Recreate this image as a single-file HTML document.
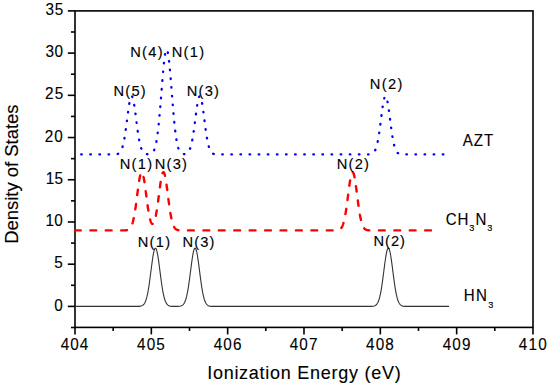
<!DOCTYPE html>
<html><head><meta charset="utf-8"><style>
html,body{margin:0;padding:0;background:#fff;}
svg{display:block;}
text{font-family:"Liberation Sans",sans-serif;fill:#000;stroke:#000;stroke-width:0.12px;}
</style></head><body>
<svg width="550" height="385" viewBox="0 0 550 385">
<rect width="550" height="385" fill="#fff"/>
<rect x="75.0" y="10.9" width="458.00" height="316.50" fill="none" stroke="#000" stroke-width="1.6"/>
<line x1="71.00" y1="327.51" x2="75.0" y2="327.51" stroke="#000" stroke-width="1.6"/>
<line x1="67.80" y1="306.40" x2="75.0" y2="306.40" stroke="#000" stroke-width="1.6"/>
<line x1="71.00" y1="285.29" x2="75.0" y2="285.29" stroke="#000" stroke-width="1.6"/>
<line x1="67.80" y1="264.19" x2="75.0" y2="264.19" stroke="#000" stroke-width="1.6"/>
<line x1="71.00" y1="243.08" x2="75.0" y2="243.08" stroke="#000" stroke-width="1.6"/>
<line x1="67.80" y1="221.97" x2="75.0" y2="221.97" stroke="#000" stroke-width="1.6"/>
<line x1="71.00" y1="200.86" x2="75.0" y2="200.86" stroke="#000" stroke-width="1.6"/>
<line x1="67.80" y1="179.75" x2="75.0" y2="179.75" stroke="#000" stroke-width="1.6"/>
<line x1="71.00" y1="158.65" x2="75.0" y2="158.65" stroke="#000" stroke-width="1.6"/>
<line x1="67.80" y1="137.54" x2="75.0" y2="137.54" stroke="#000" stroke-width="1.6"/>
<line x1="71.00" y1="116.43" x2="75.0" y2="116.43" stroke="#000" stroke-width="1.6"/>
<line x1="67.80" y1="95.32" x2="75.0" y2="95.32" stroke="#000" stroke-width="1.6"/>
<line x1="71.00" y1="74.22" x2="75.0" y2="74.22" stroke="#000" stroke-width="1.6"/>
<line x1="67.80" y1="53.11" x2="75.0" y2="53.11" stroke="#000" stroke-width="1.6"/>
<line x1="71.00" y1="32.00" x2="75.0" y2="32.00" stroke="#000" stroke-width="1.6"/>
<line x1="67.80" y1="10.89" x2="75.0" y2="10.89" stroke="#000" stroke-width="1.6"/>
<line x1="75.00" y1="327.4" x2="75.00" y2="334.40" stroke="#000" stroke-width="1.6"/>
<line x1="113.16" y1="327.4" x2="113.16" y2="331.00" stroke="#000" stroke-width="1.6"/>
<line x1="151.33" y1="327.4" x2="151.33" y2="334.40" stroke="#000" stroke-width="1.6"/>
<line x1="189.50" y1="327.4" x2="189.50" y2="331.00" stroke="#000" stroke-width="1.6"/>
<line x1="227.66" y1="327.4" x2="227.66" y2="334.40" stroke="#000" stroke-width="1.6"/>
<line x1="265.82" y1="327.4" x2="265.82" y2="331.00" stroke="#000" stroke-width="1.6"/>
<line x1="303.99" y1="327.4" x2="303.99" y2="334.40" stroke="#000" stroke-width="1.6"/>
<line x1="342.15" y1="327.4" x2="342.15" y2="331.00" stroke="#000" stroke-width="1.6"/>
<line x1="380.32" y1="327.4" x2="380.32" y2="334.40" stroke="#000" stroke-width="1.6"/>
<line x1="418.49" y1="327.4" x2="418.49" y2="331.00" stroke="#000" stroke-width="1.6"/>
<line x1="456.65" y1="327.4" x2="456.65" y2="334.40" stroke="#000" stroke-width="1.6"/>
<line x1="494.81" y1="327.4" x2="494.81" y2="331.00" stroke="#000" stroke-width="1.6"/>
<line x1="532.98" y1="327.4" x2="532.98" y2="334.40" stroke="#000" stroke-width="1.6"/>
<path d="M75.00,306.40 L135.15,306.40 L138.81,306.34 L140.49,306.17 L141.71,305.85 L142.63,305.39 L143.39,304.79 L144.00,304.10 L144.61,303.18 L145.22,301.98 L145.68,300.86 L146.14,299.53 L146.60,297.97 L147.06,296.15 L147.51,294.08 L147.97,291.74 L148.43,289.13 L148.89,286.26 L149.35,283.17 L149.96,278.73 L151.64,265.72 L152.25,261.18 L152.70,258.04 L153.16,255.21 L153.47,253.53 L153.77,252.06 L154.08,250.79 L154.38,249.76 L154.69,248.97 L154.99,248.44 L155.30,248.18 L155.60,248.18 L155.91,248.44 L156.22,248.97 L156.52,249.76 L156.83,250.79 L157.13,252.06 L157.44,253.53 L157.74,255.21 L158.20,258.04 L158.66,261.18 L159.27,265.72 L160.64,276.42 L161.25,280.99 L161.71,284.22 L162.17,287.25 L162.63,290.03 L163.08,292.55 L163.54,294.80 L164.00,296.79 L164.46,298.52 L164.92,300.00 L165.37,301.26 L165.99,302.62 L166.60,303.67 L167.21,304.47 L167.97,305.18 L168.89,305.72 L170.11,306.11 L172.09,306.34 L177.13,306.38 L179.42,306.26 L180.79,306.02 L181.86,305.61 L182.63,305.12 L183.39,304.38 L184.00,303.56 L184.61,302.47 L185.22,301.06 L185.68,299.77 L186.14,298.25 L186.59,296.47 L187.05,294.44 L187.51,292.15 L187.97,289.58 L188.43,286.76 L188.88,283.70 L189.50,279.30 L190.41,272.26 L191.33,265.14 L191.78,261.73 L192.24,258.54 L192.70,255.65 L193.01,253.93 L193.31,252.41 L193.62,251.09 L193.92,250.00 L194.23,249.15 L194.53,248.55 L194.84,248.22 L195.14,248.15 L195.45,248.35 L195.75,248.82 L196.06,249.54 L196.36,250.51 L196.67,251.72 L196.98,253.15 L197.28,254.77 L197.74,257.54 L198.20,260.64 L198.81,265.14 L200.18,275.83 L200.79,280.43 L201.25,283.70 L201.71,286.76 L202.17,289.58 L202.62,292.15 L203.08,294.44 L203.54,296.47 L204.00,298.25 L204.46,299.77 L204.91,301.06 L205.52,302.47 L206.13,303.56 L206.75,304.38 L207.51,305.12 L208.42,305.68 L209.65,306.09 L211.63,306.33 L366.28,306.40 L371.16,306.36 L373.14,306.20 L374.37,305.93 L375.28,305.53 L376.05,304.99 L376.81,304.20 L377.42,303.31 L378.03,302.15 L378.49,301.06 L378.95,299.77 L379.40,298.25 L379.86,296.47 L380.32,294.44 L380.78,292.15 L381.24,289.58 L381.69,286.76 L382.15,283.70 L382.76,279.30 L383.68,272.26 L384.59,265.14 L385.05,261.73 L385.51,258.54 L385.97,255.65 L386.27,253.93 L386.58,252.41 L386.88,251.09 L387.19,250.00 L387.50,249.15 L387.80,248.55 L388.11,248.22 L388.41,248.15 L388.72,248.35 L389.02,248.82 L389.33,249.54 L389.63,250.51 L389.94,251.72 L390.24,253.15 L390.55,254.77 L391.01,257.54 L391.46,260.64 L392.07,265.14 L393.45,275.83 L394.06,280.43 L394.52,283.70 L394.98,286.76 L395.43,289.58 L395.89,292.15 L396.35,294.44 L396.81,296.47 L397.27,298.25 L397.72,299.77 L398.18,301.06 L398.79,302.47 L399.40,303.56 L400.01,304.38 L400.78,305.12 L401.69,305.68 L402.91,306.09 L404.90,306.33 L449.02,306.40" fill="none" stroke="#333" stroke-width="1.1"/>
<path d="M75.00,230.41 L75.00,230.41 L75.23,230.41 L75.46,230.41 L75.69,230.41 L75.92,230.41 L76.14,230.41 L76.37,230.41 L76.60,230.41 L76.83,230.41 L77.06,230.41 L77.29,230.41 L77.52,230.41 L77.75,230.41 L77.98,230.41 L78.21,230.41 L78.43,230.41 L78.66,230.41 L78.89,230.41 L79.12,230.41 L79.35,230.41 L79.58,230.41 L79.81,230.41 L80.04,230.41 L80.27,230.41 L80.50,230.41 L80.72,230.41 L80.75,230.41M90.37,230.41 L90.38,230.41 L90.61,230.41 L90.84,230.41 L91.07,230.41 L91.30,230.41 L91.53,230.41 L91.75,230.41 L91.98,230.41 L92.21,230.41 L92.44,230.41 L92.67,230.41 L92.90,230.41 L93.13,230.41 L93.36,230.41 L93.59,230.41 L93.82,230.41 L94.04,230.41 L94.27,230.41 L94.50,230.41 L94.73,230.41 L94.96,230.41 L95.19,230.41 L95.42,230.41 L95.65,230.41 L95.88,230.41 L96.11,230.41 L96.17,230.41M105.79,230.41 L105.80,230.41 L106.03,230.41 L106.26,230.41 L106.49,230.41 L106.72,230.41 L106.94,230.41 L107.17,230.41 L107.40,230.41 L107.63,230.41 L107.86,230.41 L108.09,230.41 L108.32,230.41 L108.55,230.41 L108.78,230.41 L109.01,230.41 L109.23,230.41 L109.46,230.41 L109.69,230.41 L109.92,230.41 L110.15,230.41 L110.38,230.41 L110.61,230.41 L110.84,230.41 L111.07,230.41 L111.29,230.41 L111.52,230.41 L111.59,230.41M121.21,230.41 L121.22,230.41 L121.45,230.41 L121.68,230.41 L121.90,230.41 L122.13,230.41 L122.36,230.41 L122.59,230.41 L122.82,230.40 L123.05,230.40 L123.28,230.40 L123.51,230.40 L123.74,230.39 L123.97,230.39 L124.19,230.38 L124.42,230.38 L124.65,230.37 L124.88,230.36 L125.11,230.35 L125.34,230.33 L125.57,230.32 L125.80,230.30 L126.03,230.28 L126.26,230.25 L126.48,230.22 L126.71,230.19 L126.94,230.14 L126.99,230.13M132.46,223.36 L132.48,223.30 L132.71,222.53 L132.93,221.70 L133.16,220.80 L133.39,219.84 L133.62,218.81 L133.77,218.10M135.30,209.27 L135.30,209.27 L135.53,207.71 L135.76,206.10 L135.99,204.44 L136.06,203.92M137.21,195.04 L137.25,194.78 L137.48,192.98 L137.71,191.20 L137.90,189.69M139.16,180.82 L139.19,180.59 L139.42,179.22 L139.65,177.95 L139.88,176.78 L140.11,175.73 L140.16,175.50M143.57,176.88 L143.58,176.96 L143.81,178.15 L144.04,179.44 L144.27,180.82 L144.49,182.21M145.71,191.08 L145.72,191.18 L145.95,192.95 L146.18,194.74 L146.40,196.44M147.57,205.32 L147.59,205.43 L147.82,207.03 L148.05,208.58 L148.28,210.07 L148.37,210.66M150.12,219.46 L150.15,219.56 L150.38,220.36 L150.60,221.08 L150.83,221.73 L151.06,222.29 L151.29,222.77 L151.52,223.17 L151.75,223.49 L151.98,223.73 L152.21,223.89 L152.44,223.97 L152.67,223.97 L152.70,223.96M155.84,215.71 L155.87,215.54 L156.10,214.34 L156.33,213.07 L156.56,211.72 L156.78,210.39M158.05,201.52 L158.05,201.51 L158.28,199.77 L158.51,198.01 L158.73,196.23 L158.74,196.16M159.90,187.28 L159.92,187.12 L160.15,185.46 L160.38,183.84 L160.60,182.29 L160.66,181.93M162.54,173.17 L162.55,173.16 L162.78,172.69 L163.01,172.36 L163.24,172.19 L163.47,172.16 L163.70,172.29 L163.92,172.56 L164.15,172.99 L164.38,173.55 L164.61,174.26 L164.84,175.10 L165.00,175.78M166.51,184.61 L166.52,184.65 L166.75,186.30 L166.98,188.00 L167.21,189.73 L167.24,189.96M168.38,198.85 L168.39,198.96 L168.62,200.72 L168.85,202.46 L169.08,204.16 L169.08,204.20M170.40,213.06 L170.41,213.14 L170.64,214.48 L170.87,215.75 L171.10,216.95 L171.33,218.09 L171.39,218.38M174.08,226.94 L174.11,226.99 L174.34,227.39 L174.57,227.74 L174.80,228.06 L175.03,228.35 L175.26,228.61 L175.49,228.83 L175.72,229.04 L175.95,229.22 L176.18,229.38 L176.40,229.52 L176.63,229.64 L176.86,229.75 L177.09,229.84 L177.32,229.93 L177.55,230.00 L177.78,230.06 L178.01,230.11 L178.24,230.16 L178.40,230.19M188.01,230.41 L188.04,230.41 L188.27,230.41 L188.50,230.41 L188.73,230.41 L188.96,230.41 L189.19,230.41 L189.42,230.41 L189.65,230.41 L189.88,230.41 L190.11,230.41 L190.33,230.41 L190.56,230.41 L190.79,230.41 L191.02,230.41 L191.25,230.41 L191.48,230.41 L191.71,230.41 L191.94,230.41 L192.17,230.41 L192.40,230.41 L192.62,230.41 L192.85,230.41 L193.08,230.41 L193.31,230.41 L193.54,230.41 L193.77,230.41 L193.81,230.41M203.43,230.41 L203.46,230.41 L203.69,230.41 L203.92,230.41 L204.15,230.41 L204.38,230.41 L204.61,230.41 L204.84,230.41 L205.07,230.41 L205.30,230.41 L205.52,230.41 L205.75,230.41 L205.98,230.41 L206.21,230.41 L206.44,230.41 L206.67,230.41 L206.90,230.41 L207.13,230.41 L207.36,230.41 L207.59,230.41 L207.81,230.41 L208.04,230.41 L208.27,230.41 L208.50,230.41 L208.73,230.41 L208.96,230.41 L209.19,230.41 L209.23,230.41M218.85,230.41 L218.88,230.41 L219.11,230.41 L219.34,230.41 L219.57,230.41 L219.80,230.41 L220.03,230.41 L220.26,230.41 L220.48,230.41 L220.71,230.41 L220.94,230.41 L221.17,230.41 L221.40,230.41 L221.63,230.41 L221.86,230.41 L222.09,230.41 L222.32,230.41 L222.55,230.41 L222.77,230.41 L223.00,230.41 L223.23,230.41 L223.46,230.41 L223.69,230.41 L223.92,230.41 L224.15,230.41 L224.38,230.41 L224.61,230.41 L224.65,230.41M234.27,230.41 L234.30,230.41 L234.53,230.41 L234.76,230.41 L234.99,230.41 L235.22,230.41 L235.45,230.41 L235.67,230.41 L235.90,230.41 L236.13,230.41 L236.36,230.41 L236.59,230.41 L236.82,230.41 L237.05,230.41 L237.28,230.41 L237.51,230.41 L237.74,230.41 L237.96,230.41 L238.19,230.41 L238.42,230.41 L238.65,230.41 L238.88,230.41 L239.11,230.41 L239.34,230.41 L239.57,230.41 L239.80,230.41 L240.03,230.41 L240.07,230.41M249.69,230.41 L249.72,230.41 L249.95,230.41 L250.18,230.41 L250.41,230.41 L250.64,230.41 L250.86,230.41 L251.09,230.41 L251.32,230.41 L251.55,230.41 L251.78,230.41 L252.01,230.41 L252.24,230.41 L252.47,230.41 L252.70,230.41 L252.93,230.41 L253.15,230.41 L253.38,230.41 L253.61,230.41 L253.84,230.41 L254.07,230.41 L254.30,230.41 L254.53,230.41 L254.76,230.41 L254.99,230.41 L255.22,230.41 L255.44,230.41 L255.49,230.41M265.11,230.41 L265.14,230.41 L265.37,230.41 L265.60,230.41 L265.82,230.41 L266.05,230.41 L266.28,230.41 L266.51,230.41 L266.74,230.41 L266.97,230.41 L267.20,230.41 L267.43,230.41 L267.66,230.41 L267.89,230.41 L268.11,230.41 L268.34,230.41 L268.57,230.41 L268.80,230.41 L269.03,230.41 L269.26,230.41 L269.49,230.41 L269.72,230.41 L269.95,230.41 L270.18,230.41 L270.40,230.41 L270.63,230.41 L270.86,230.41 L270.91,230.41M280.53,230.41 L280.56,230.41 L280.79,230.41 L281.01,230.41 L281.24,230.41 L281.47,230.41 L281.70,230.41 L281.93,230.41 L282.16,230.41 L282.39,230.41 L282.62,230.41 L282.85,230.41 L283.08,230.41 L283.30,230.41 L283.53,230.41 L283.76,230.41 L283.99,230.41 L284.22,230.41 L284.45,230.41 L284.68,230.41 L284.91,230.41 L285.14,230.41 L285.37,230.41 L285.59,230.41 L285.82,230.41 L286.05,230.41 L286.28,230.41 L286.33,230.41M295.95,230.41 L295.98,230.41 L296.20,230.41 L296.43,230.41 L296.66,230.41 L296.89,230.41 L297.12,230.41 L297.35,230.41 L297.58,230.41 L297.81,230.41 L298.04,230.41 L298.27,230.41 L298.49,230.41 L298.72,230.41 L298.95,230.41 L299.18,230.41 L299.41,230.41 L299.64,230.41 L299.87,230.41 L300.10,230.41 L300.33,230.41 L300.56,230.41 L300.78,230.41 L301.01,230.41 L301.24,230.41 L301.47,230.41 L301.70,230.41 L301.75,230.41M311.37,230.41 L311.39,230.41 L311.62,230.41 L311.85,230.41 L312.08,230.41 L312.31,230.41 L312.54,230.41 L312.77,230.41 L313.00,230.41 L313.23,230.41 L313.45,230.41 L313.68,230.41 L313.91,230.41 L314.14,230.41 L314.37,230.41 L314.60,230.41 L314.83,230.41 L315.06,230.41 L315.29,230.41 L315.52,230.41 L315.74,230.41 L315.97,230.41 L316.20,230.41 L316.43,230.41 L316.66,230.41 L316.89,230.41 L317.12,230.41 L317.17,230.41M326.79,230.41 L326.81,230.41 L327.04,230.41 L327.27,230.41 L327.50,230.41 L327.73,230.41 L327.96,230.41 L328.19,230.41 L328.42,230.41 L328.64,230.41 L328.87,230.41 L329.10,230.41 L329.33,230.41 L329.56,230.41 L329.79,230.41 L330.02,230.41 L330.25,230.41 L330.48,230.41 L330.71,230.41 L330.93,230.41 L331.16,230.41 L331.39,230.41 L331.62,230.41 L331.85,230.41 L332.08,230.41 L332.31,230.41 L332.54,230.41 L332.59,230.41M341.32,227.90 L341.35,227.85 L341.58,227.51 L341.81,227.13 L342.04,226.71 L342.27,226.24 L342.50,225.73 L342.73,225.17 L342.96,224.56 L343.19,223.90 L343.41,223.18 L343.49,222.92M345.42,214.16 L345.44,214.04 L345.67,212.68 L345.90,211.26 L346.12,209.78 L346.27,208.83M347.48,199.95 L347.50,199.84 L347.73,198.07 L347.96,196.28 L348.17,194.60M349.33,185.72 L349.37,185.47 L349.60,183.85 L349.83,182.30 L350.06,180.83 L350.13,180.37M352.84,172.23 L352.88,172.26 L353.11,172.51 L353.34,172.91 L353.57,173.45 L353.80,174.13 L354.02,174.95 L354.25,175.90 L354.48,176.97 L354.55,177.33M355.95,186.18 L355.97,186.30 L356.20,188.00 L356.43,189.73 L356.66,191.50 L356.66,191.53M357.80,200.41 L357.80,200.43 L358.03,202.17 L358.26,203.88 L358.49,205.55 L358.52,205.77M359.89,214.62 L359.90,214.69 L360.13,215.95 L360.36,217.15 L360.59,218.28 L360.82,219.34 L360.95,219.92M364.20,228.28 L364.21,228.30 L364.44,228.57 L364.67,228.80 L364.90,229.01 L365.13,229.19 L365.36,229.35 L365.59,229.50 L365.82,229.62 L366.05,229.73 L366.28,229.83 L366.50,229.91 L366.73,229.99 L366.96,230.05 L367.19,230.10 L367.42,230.15 L367.65,230.19 L367.88,230.23 L368.11,230.26 L368.34,230.28 L368.57,230.30 L368.79,230.32 L369.02,230.34 L369.25,230.35 L369.31,230.35M378.93,230.41 L378.95,230.41 L379.18,230.41 L379.40,230.41 L379.63,230.41 L379.86,230.41 L380.09,230.41 L380.32,230.41 L380.55,230.41 L380.78,230.41 L381.01,230.41 L381.24,230.41 L381.46,230.41 L381.69,230.41 L381.92,230.41 L382.15,230.41 L382.38,230.41 L382.61,230.41 L382.84,230.41 L383.07,230.41 L383.30,230.41 L383.53,230.41 L383.75,230.41 L383.98,230.41 L384.21,230.41 L384.44,230.41 L384.67,230.41 L384.73,230.41M394.35,230.41 L394.36,230.41 L394.59,230.41 L394.82,230.41 L395.05,230.41 L395.28,230.41 L395.51,230.41 L395.74,230.41 L395.97,230.41 L396.20,230.41 L396.43,230.41 L396.65,230.41 L396.88,230.41 L397.11,230.41 L397.34,230.41 L397.57,230.41 L397.80,230.41 L398.03,230.41 L398.26,230.41 L398.49,230.41 L398.72,230.41 L398.94,230.41 L399.17,230.41 L399.40,230.41 L399.63,230.41 L399.86,230.41 L400.09,230.41 L400.15,230.41M409.77,230.41 L409.78,230.41 L410.01,230.41 L410.24,230.41 L410.47,230.41 L410.70,230.41 L410.93,230.41 L411.16,230.41 L411.39,230.41 L411.62,230.41 L411.84,230.41 L412.07,230.41 L412.30,230.41 L412.53,230.41 L412.76,230.41 L412.99,230.41 L413.22,230.41 L413.45,230.41 L413.68,230.41 L413.91,230.41 L414.13,230.41 L414.36,230.41 L414.59,230.41 L414.82,230.41 L415.05,230.41 L415.28,230.41 L415.51,230.41 L415.57,230.41M425.19,230.41 L425.20,230.41 L425.43,230.41 L425.66,230.41 L425.89,230.41 L426.12,230.41 L426.35,230.41 L426.58,230.41 L426.80,230.41 L427.03,230.41 L427.26,230.41 L427.49,230.41 L427.72,230.41 L427.95,230.41 L428.18,230.41 L428.41,230.41 L428.64,230.41 L428.87,230.41 L429.09,230.41 L429.32,230.41 L429.55,230.41 L429.78,230.41 L430.01,230.41 L430.24,230.41 L430.47,230.41 L430.70,230.41 L430.93,230.41 L430.99,230.41" fill="none" stroke="#ff0000" stroke-width="2.4" stroke-linecap="round" stroke-linejoin="round"/>
<path d="M81.19,154.43 L81.22,154.43 L81.45,154.43 L81.68,154.43 L81.79,154.43M90.30,154.43 L90.30,154.43 L90.53,154.43 L90.76,154.43 L90.90,154.43M99.41,154.43 L99.43,154.43 L99.65,154.43 L99.88,154.43 L100.01,154.43M108.52,154.43 L108.55,154.43 L108.78,154.43 L109.01,154.43 L109.12,154.43M117.59,153.98 L117.59,153.98 L117.82,153.90 L118.05,153.81 L118.15,153.77M122.49,147.03 L122.52,146.94 L122.65,146.47M124.39,138.48 L124.42,138.27 L124.49,137.91M125.72,129.83 L125.76,129.57 L125.80,129.26M126.87,121.15 L126.90,120.89 L126.94,120.58M127.99,112.47 L128.01,112.30 L128.06,111.90M129.25,103.81 L129.27,103.68 L129.35,103.24M132.12,96.50 L132.13,96.52 L132.36,96.92 L132.40,97.00M134.21,104.97 L134.23,105.08 L134.30,105.54M135.44,113.64 L135.45,113.74 L135.51,114.21M136.55,122.32 L136.56,122.38 L136.63,122.89M137.71,130.99 L137.74,131.19 L137.80,131.56M139.09,139.63 L139.12,139.76 L139.20,140.20M141.14,148.15 L141.18,148.25 L141.34,148.69M146.88,154.21 L146.90,154.21 L147.13,154.24 L147.36,154.25 L147.48,154.26M154.07,150.21 L154.08,150.19 L154.29,149.67M156.37,141.76 L156.41,141.56 L156.47,141.20M157.68,133.11 L157.70,132.96 L157.76,132.54M158.68,124.42 L158.70,124.24 L158.74,123.84M159.51,115.71 L159.54,115.48 L159.57,115.13M160.27,106.99 L160.30,106.59 L160.31,106.42M160.97,98.27 L160.99,98.07 L161.01,97.70M161.65,89.55 L161.67,89.32 L161.70,88.98M162.35,80.83 L162.36,80.67 L162.39,80.26M163.08,72.11 L163.08,72.02 L163.13,71.54M163.90,63.40 L163.92,63.16 L163.96,62.83M164.98,54.72 L164.99,54.63 L165.07,54.15M167.78,52.34 L167.82,52.50 L167.90,52.91M169.03,61.00 L169.04,61.04 L169.10,61.58M169.90,69.71 L169.92,69.87 L169.95,70.28M170.65,78.42 L170.68,78.79 L170.70,79.00M171.35,87.14 L171.37,87.38 L171.39,87.72M172.03,95.87 L172.05,96.13 L172.08,96.44M172.73,104.59 L172.74,104.73 L172.78,105.16M173.46,113.30 L173.47,113.33 L173.51,113.88M174.27,122.01 L174.31,122.36 L174.33,122.59M175.21,130.71 L175.22,130.80 L175.28,131.28M176.41,139.38 L176.44,139.59 L176.50,139.95M178.28,147.93 L178.31,148.04 L178.46,148.48M183.83,154.11 L183.85,154.11 L184.08,154.12 L184.30,154.13 L184.43,154.12M190.07,148.78 L190.11,148.68 L190.26,148.24M192.22,140.29 L192.24,140.17 L192.33,139.73M193.63,131.65 L193.65,131.46 L193.71,131.08M194.80,122.98 L194.80,122.97 L194.87,122.41M195.91,114.30 L195.94,114.04 L195.99,113.73M197.12,105.63 L197.13,105.57 L197.21,105.06M199.00,97.09 L199.00,97.08 L199.23,96.64 L199.27,96.58M202.07,103.15 L202.09,103.23 L202.17,103.72M203.36,111.81 L203.39,112.01 L203.44,112.38M204.48,120.49 L204.49,120.59 L204.55,121.06M205.62,129.16 L205.64,129.29 L205.70,129.73M206.93,137.82 L206.94,137.83 L207.03,138.39M208.76,146.38 L208.77,146.41 L208.92,146.94M213.20,153.73 L213.23,153.75 L213.46,153.84 L213.69,153.93 L213.76,153.95M222.22,154.43 L222.24,154.43 L222.47,154.43 L222.70,154.43 L222.82,154.43M231.33,154.43 L231.36,154.43 L231.59,154.43 L231.82,154.43 L231.93,154.43M240.44,154.43 L240.45,154.43 L240.67,154.43 L240.90,154.43 L241.04,154.43M249.55,154.43 L249.57,154.43 L249.80,154.43 L250.02,154.43 L250.15,154.43M258.66,154.43 L258.69,154.43 L258.92,154.43 L259.15,154.43 L259.26,154.43M267.77,154.43 L267.81,154.43 L268.04,154.43 L268.27,154.43 L268.37,154.43M276.88,154.43 L276.89,154.43 L277.12,154.43 L277.35,154.43 L277.48,154.43M285.99,154.43 L286.01,154.43 L286.24,154.43 L286.47,154.43 L286.59,154.43M295.10,154.43 L295.14,154.43 L295.36,154.43 L295.59,154.43 L295.70,154.43M304.21,154.43 L304.22,154.43 L304.45,154.43 L304.68,154.43 L304.81,154.43M313.32,154.43 L313.34,154.43 L313.57,154.43 L313.80,154.43 L313.92,154.43M322.43,154.43 L322.46,154.43 L322.69,154.43 L322.92,154.43 L323.03,154.43M331.54,154.43 L331.55,154.43 L331.77,154.43 L332.00,154.43 L332.14,154.43M340.65,154.43 L340.67,154.43 L340.90,154.43 L341.12,154.43 L341.25,154.43M349.76,154.43 L349.79,154.43 L350.02,154.43 L350.25,154.43 L350.36,154.43M358.87,154.43 L358.91,154.43 L359.14,154.43 L359.37,154.43 L359.47,154.43M367.98,154.40 L367.99,154.40 L368.22,154.39 L368.45,154.38 L368.58,154.38M375.19,150.21 L375.21,150.18 L375.43,149.68M377.63,141.80 L377.65,141.73 L377.75,141.24M379.11,133.17 L379.14,133.03 L379.20,132.60M380.31,124.50 L380.32,124.44 L380.39,123.93M381.42,115.82 L381.43,115.81 L381.50,115.25M382.60,107.15 L382.61,107.08 L382.68,106.58M384.21,98.55 L384.21,98.54 L384.37,97.99M387.51,101.64 L387.53,101.76 L387.62,102.20M388.87,110.28 L388.87,110.31 L388.94,110.85M390.00,118.96 L390.01,119.09 L390.07,119.53M391.12,127.64 L391.16,127.90 L391.20,128.21M392.39,136.30 L392.42,136.46 L392.49,136.87M394.08,144.89 L394.10,144.97 L394.22,145.45M397.61,152.85 L397.65,152.88 L397.88,153.08 L398.06,153.23M406.33,154.42 L406.35,154.42 L406.58,154.42 L406.81,154.43 L406.93,154.43M415.44,154.43 L415.47,154.43 L415.70,154.43 L415.93,154.43 L416.04,154.43M424.55,154.43 L424.55,154.43 L424.78,154.43 L425.01,154.43 L425.15,154.43M433.66,154.43 L433.67,154.43 L433.90,154.43 L434.13,154.43 L434.26,154.43M442.77,154.43 L442.80,154.43 L443.03,154.43 L443.25,154.43 L443.37,154.43" fill="none" stroke="#0000ff" stroke-width="2.3" stroke-linecap="round" stroke-linejoin="round"/>
<text transform="translate(45.40,15.04) scale(1,1.038)" font-size="15.3" letter-spacing="0.850">35</text>
<text transform="translate(45.40,57.26) scale(1,1.038)" font-size="15.3" letter-spacing="0.600">30</text>
<text transform="translate(44.95,99.47) scale(1,1.038)" font-size="15.3" letter-spacing="1.200">25</text>
<text transform="translate(44.85,141.69) scale(1,1.038)" font-size="15.3" letter-spacing="0.950">20</text>
<text transform="translate(45.65,183.91) scale(1,1.038)" font-size="15.3" letter-spacing="0.400">15</text>
<text transform="translate(45.55,226.12) scale(1,1.038)" font-size="15.3" letter-spacing="0.250">10</text>
<text transform="translate(54.25,268.33) scale(1,1.038)" font-size="15.3" letter-spacing="0.000">5</text>
<text transform="translate(54.25,310.55) scale(1,1.038)" font-size="15.3" letter-spacing="0.000">0</text>
<text transform="translate(60.65,349.80) scale(1,1.038)" font-size="15.3" letter-spacing="1.075">404</text>
<text transform="translate(137.05,349.80) scale(1,1.038)" font-size="15.3" letter-spacing="1.150">405</text>
<text transform="translate(213.65,349.80) scale(1,1.038)" font-size="15.3" letter-spacing="1.200">406</text>
<text transform="translate(289.65,349.80) scale(1,1.038)" font-size="15.3" letter-spacing="1.200">407</text>
<text transform="translate(366.05,349.80) scale(1,1.038)" font-size="15.3" letter-spacing="1.150">408</text>
<text transform="translate(442.65,349.80) scale(1,1.038)" font-size="15.3" letter-spacing="1.150">409</text>
<text transform="translate(518.85,349.80) scale(1,1.038)" font-size="15.3" letter-spacing="1.175">410</text>
<text transform="translate(207.15,378.80) scale(1,1.038)" font-size="18.0" letter-spacing="0.745">Ionization Energy (eV)</text>
<text transform="translate(113.45,96.35) scale(1,1.038)" font-size="14.7" letter-spacing="1.233">N(5)</text>
<text transform="translate(130.25,57.35) scale(1,1.038)" font-size="14.7" letter-spacing="1.267">N(4)</text>
<text transform="translate(171.65,57.15) scale(1,1.038)" font-size="14.7" letter-spacing="1.300">N(1)</text>
<text transform="translate(186.75,96.35) scale(1,1.038)" font-size="14.7" letter-spacing="1.233">N(3)</text>
<text transform="translate(369.65,88.75) scale(1,1.038)" font-size="14.7" letter-spacing="1.400">N(2)</text>
<text transform="translate(119.65,168.95) scale(1,1.038)" font-size="14.7" letter-spacing="1.300">N(1)</text>
<text transform="translate(154.75,169.05) scale(1,1.038)" font-size="14.7" letter-spacing="1.233">N(3)</text>
<text transform="translate(336.75,169.15) scale(1,1.038)" font-size="14.7" letter-spacing="1.233">N(2)</text>
<text transform="translate(137.65,247.15) scale(1,1.038)" font-size="14.7" letter-spacing="1.300">N(1)</text>
<text transform="translate(182.45,246.55) scale(1,1.038)" font-size="14.7" letter-spacing="1.133">N(3)</text>
<text transform="translate(373.45,246.35) scale(1,1.038)" font-size="14.7" letter-spacing="1.000">N(2)</text>
<text transform="translate(462.80,146.40) scale(1,1.038)" font-size="15.1" letter-spacing="0.925">AZT</text>
<text transform="translate(445.65,224.70) scale(1,1.038)" font-size="15.1" letter-spacing="0.963">CH<tspan font-size="9.2" dy="6.4">3</tspan><tspan dy="-6.4">N</tspan><tspan font-size="9.2" dy="6.4">3</tspan></text>
<text transform="translate(463.65,300.90) scale(1,1.038)" font-size="15.1" letter-spacing="1.425">HN<tspan font-size="9.2" dy="6.6">3</tspan></text>
<text transform="translate(18.00,243.80) rotate(-90) scale(1,1.038)" font-size="18.4" letter-spacing="0.019">Density of States</text>
</svg></body></html>
